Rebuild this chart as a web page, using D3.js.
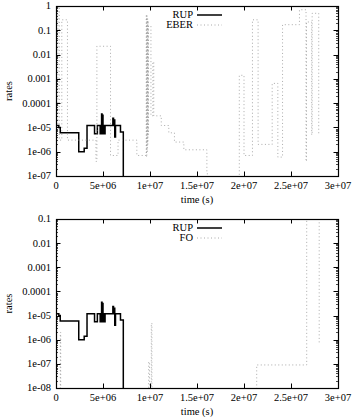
<!DOCTYPE html>
<html>
<head>
<meta charset="utf-8">
<script src="https://d3js.org/d3.v7.min.js"></script>
<style>
  body { margin: 0; background: #fff; }
  text { font-family: "Liberation Serif", "DejaVu Serif", serif; font-size: 10.5px; fill: #000; }
</style>
</head>
<body>
<svg id="chart" width="352" height="417"></svg>
<script>
// step data, value holds from t until next t. 1e-9 = below the axis (zero)
var rupT = [0, 0.3e6, 0.45e6, 2.42e6, 3.0e6, 3.3e6, 4.1e6, 4.4e6, 4.7e6, 4.8e6, 4.85e6, 4.9e6, 4.95e6, 5.0e6,
            5.1e6, 5.15e6, 5.22e6, 6.05e6, 6.12e6, 6.2e6, 6.25e6, 6.33e6, 6.86e6, 7.16e6];
var rupV = [1.2e-5, 1.0e-5, 6e-6, 1e-6, 1.4e-6, 1.2e-5, 5.5e-6, 1.2e-5, 5.5e-6, 1.2e-5, 3.6e-5, 5.5e-6, 3.2e-5, 5.5e-6,
            1.2e-5, 5.5e-6, 1.2e-5, 2.4e-5, 1.2e-5, 2.0e-5, 4e-6, 1.2e-5, 6.5e-6, 1e-9];

var eberT = [0, 0.2e6, 0.35e6, 0.62e6, 1.22e6, 4.25e6, 4.35e6, 5.8e6, 6.6e6, 8.6e6,
             9.6e6, 9.63e6, 9.66e6, 9.69e6, 9.72e6, 9.75e6, 9.78e6, 9.81e6, 9.84e6, 10.1e6, 10.3e6, 10.4e6,
             11.2e6, 12.0e6, 12.6e6, 13.6e6, 16.05e6, 16.1e6, 19.5e6, 20.0e6, 20.9e6, 21.5e6, 23.0e6, 23.6e6,
             24.1e6, 25.9e6, 26.6e6, 26.65e6, 27.2e6, 27.25e6, 27.95e6];
var eberV = [1.2e-5, 0.9, 3e-6, 0.27, 3e-6, 4e-7, 0.022, 7e-7, 3e-6, 7e-7,
             0.45, 6e-7, 0.4, 1e-6, 0.3, 2e-6, 0.25, 5e-6, 0.15, 3e-5, 5e-3, 3e-5,
             1.2e-5, 6e-6, 2.5e-6, 1.2e-6, 1.5e-7, 1e-9, 1.4e-3, 7e-7, 0.27, 2e-6, 6.5e-4, 6e-7,
             0.17, 0.7, 4e-7, 0.22, 5e-6, 0.5, 5e-6];

var foT = [0, 0.46e6, 0.5e6, 9.86e6, 9.95e6, 10.14e6, 10.2e6, 21.35e6, 26.67e6, 28.0e6];
var foV = [1e-9, 2e-6, 1e-9, 1.2e-7, 1e-9, 4.8e-6, 1e-9, 9e-8, 0.5, 7e-7];

var xTicks = [0, 5e6, 1e7, 1.5e7, 2e7, 2.5e7, 3e7];
var xTickLabels = ["0", "5e+06", "1e+07", "1.5e+07", "2e+07", "2.5e+07", "3e+07"];
var yTicksTop = [1, 0.1, 0.01, 0.001, 0.0001, 1e-5, 1e-6, 1e-7];
var yLabelsTop = ["1", "0.1", "0.01", "0.001", "0.0001", "1e-05", "1e-06", "1e-07"];
var yTicksBottom = [0.1, 0.01, 0.001, 0.0001, 1e-5, 1e-6, 1e-7, 1e-8];
var yLabelsBottom = ["0.1", "0.01", "0.001", "0.0001", "1e-05", "1e-06", "1e-07", "1e-08"];

var svg = d3.select("#chart");

function zip(ts, vs) {
  return ts.map(function (t, i) { return [t, vs[i]]; });
}

function panel(id, top, bottom, yTicks, yLabels, series) {
  var left = 56, right = 338;
  var x = d3.scaleLinear().domain([0, 3e7]).range([left, right]);
  var y = d3.scaleLog().domain([yTicks[yTicks.length - 1], yTicks[0]]).range([bottom, top]);
  var g = svg.append("g");

  g.append("clipPath").attr("id", id)
    .append("rect").attr("x", left).attr("y", top)
    .attr("width", right - left).attr("height", bottom - top);

  var line = d3.line()
    .x(function (d) { return x(d[0]); })
    .y(function (d) { return y(d[1]); })
    .curve(d3.curveStepAfter);

  series.forEach(function (s) {
    g.append("path")
      .attr("clip-path", "url(#" + id + ")")
      .attr("d", line(s.data))
      .attr("fill", "none")
      .attr("stroke", s.color)
      .attr("stroke-width", s.width)
      .attr("stroke-dasharray", s.dash);
  });

  // minor ticks on log axis
  var minor = [];
  for (var k = 0; k < yTicks.length - 1; k++) {
    for (var m = 2; m <= 9; m++) minor.push(yTicks[k + 1] * m);
  }
  minor.forEach(function (v) {
    var yy = Math.round(y(v)) + 0.5;
    g.append("line").attr("x1", left).attr("x2", left + 2).attr("y1", yy).attr("y2", yy).attr("stroke", "#000").attr("stroke-width", 0.7);
    g.append("line").attr("x1", right).attr("x2", right - 2).attr("y1", yy).attr("y2", yy).attr("stroke", "#000").attr("stroke-width", 0.7);
  });

  yTicks.forEach(function (v, i) {
    var yy = Math.round(y(v)) + 0.5;
    g.append("line").attr("x1", left).attr("x2", left + 4.5).attr("y1", yy).attr("y2", yy).attr("stroke", "#000");
    g.append("line").attr("x1", right).attr("x2", right - 4.5).attr("y1", yy).attr("y2", yy).attr("stroke", "#000");
    g.append("text").attr("x", left - 5).attr("y", y(v)).attr("dy", "0.33em")
      .attr("text-anchor", "end").text(yLabels[i]);
  });

  xTicks.forEach(function (v, i) {
    var xx = Math.round(x(v)) + 0.5;
    g.append("line").attr("x1", xx).attr("x2", xx).attr("y1", bottom).attr("y2", bottom - 4.5).attr("stroke", "#000");
    g.append("line").attr("x1", xx).attr("x2", xx).attr("y1", top).attr("y2", top + 4.5).attr("stroke", "#000");
    g.append("text").attr("x", x(v)).attr("y", bottom + 13)
      .attr("text-anchor", "middle").text(xTickLabels[i]);
  });

  g.append("rect").attr("x", left + 0.5).attr("y", top + 0.5)
    .attr("width", right - left).attr("height", bottom - top)
    .attr("fill", "none").attr("stroke", "#000").attr("stroke-width", 1.2);

  g.append("text").attr("x", (left + right) / 2).attr("y", bottom + 27)
    .attr("text-anchor", "middle").text("time (s)");
  g.append("text")
    .attr("transform", "translate(12," + ((top + bottom) / 2) + ") rotate(-90)")
    .attr("text-anchor", "middle").text("rates");

  // legend
  series.forEach(function (s, i) {
    var ly = top + 9 + i * 10;
    g.append("text").attr("x", 193).attr("y", ly).attr("dy", "0.33em")
      .attr("text-anchor", "end").text(s.name);
    g.append("line").attr("x1", 197).attr("x2", 222).attr("y1", ly).attr("y2", ly)
      .attr("stroke", s.color).attr("stroke-width", s.width).attr("stroke-dasharray", s.dash);
  });
}

panel("clipTop", 6, 176, yTicksTop, yLabelsTop, [
  { name: "RUP", data: zip(rupT, rupV), color: "#000", width: 1.5, dash: null },
  { name: "EBER", data: zip(eberT, eberV), color: "#a0a0a0", width: 0.9, dash: "1,2.5" }
]);

panel("clipBottom", 219, 388, yTicksBottom, yLabelsBottom, [
  { name: "RUP", data: zip(rupT, rupV), color: "#000", width: 1.5, dash: null },
  { name: "FO", data: zip(foT, foV), color: "#a0a0a0", width: 0.9, dash: "1,2.5" }
]);
</script>
</body>
</html>
